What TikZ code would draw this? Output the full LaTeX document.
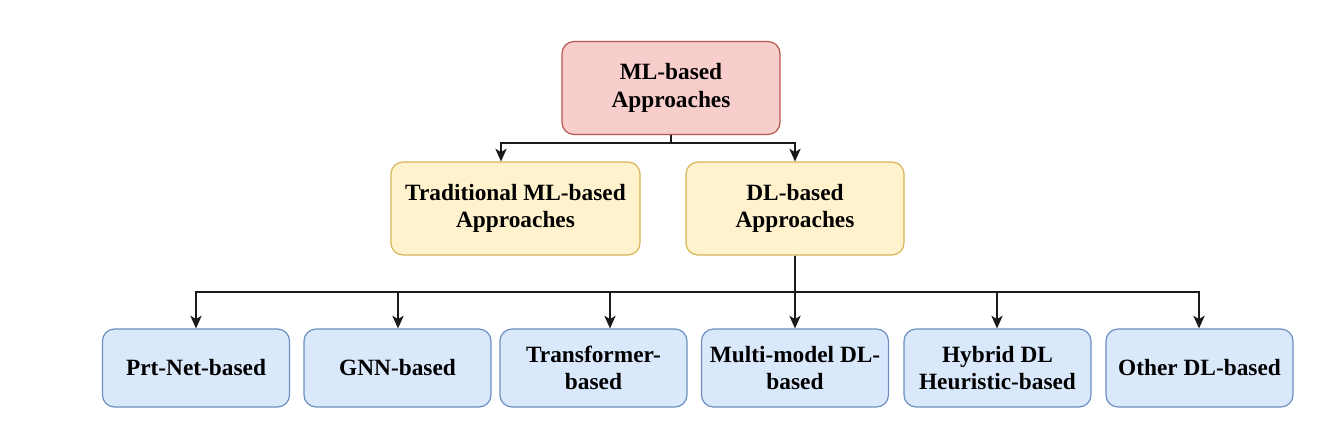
\documentclass[tikz,border=0pt]{standalone}
\usepackage{fontspec}
\setmainfont{Liberation Serif}
\usetikzlibrary{arrows.meta}
\definecolor{pinkF}{HTML}{F8CECC}
\definecolor{pinkD}{HTML}{B85450}
\definecolor{yelF}{HTML}{FFF2CC}
\definecolor{yelD}{HTML}{D6B656}
\definecolor{bluF}{HTML}{DAE8FC}
\definecolor{bluD}{HTML}{6C8EBF}
\definecolor{lineC}{HTML}{1A1A1A}
\tikzset{
  box/.style={rounded corners=9pt, line width=0.9pt, align=center, inner sep=2pt,
    font=\bfseries\fontsize{17.5}{20.5}\selectfont},
  redbox/.style={box, fill=pinkF, draw=pinkD, minimum width=163.5pt, minimum height=69.75pt},
  yelbox/.style={box, fill=yelF, draw=yelD, minimum height=69.75pt},
  blubox/.style={box, fill=bluF, draw=bluD, minimum width=140.25pt, minimum height=58.5pt},
  arr/.style={draw=lineC, line width=1.05pt, -{Stealth[length=9.5pt,width=8.5pt,inset=2.5pt]}}
}
\begin{document}
\begin{tikzpicture}[x=0.75pt,y=-0.75pt]
\useasboundingbox (0,0) rectangle (1341,437);
\node[redbox] (top) at (671,88) {ML-based\\Approaches};
\node[yelbox, minimum width=186.75pt] (trad) at (515.5,208.5) {Traditional ML-based\\Approaches};
\node[yelbox, minimum width=163.5pt] (dl) at (795,208.5) {DL-based\\Approaches};

\node[blubox] (b1) at (196,368) {Prt-Net-based};
\node[blubox] (b2) at (397.5,368) {GNN-based};
\node[blubox] (b3) at (593.5,368) {Transformer-\\based};
\node[blubox] (b4) at (795,368) {Multi-model DL-\\based};
\node[blubox] (b5) at (997.5,368) {Hybrid DL\\Heuristic-based};
\node[blubox] (b6) at (1199.5,368) {Other DL-based};

\coordinate (bus1) at (0,143);
\coordinate (bus2) at (0,292);
\coordinate (tx) at (501,0);
\coordinate (x1) at (196,0);
\coordinate (x2) at (398,0);
\coordinate (x3) at (610,0);
\coordinate (x4) at (795,0);
\coordinate (x5) at (997,0);
\coordinate (x6) at (1199,0);

\draw[arr] (top.south) -- (top.south |- bus1) -| (tx |- trad.north);
\draw[arr] (top.south) -- (top.south |- bus1) -| (dl.north);

\draw[arr] (dl.south) -- (dl.south |- bus2) -| (x1 |- b1.north);
\draw[arr] (dl.south) -- (dl.south |- bus2) -| (x2 |- b2.north);
\draw[arr] (dl.south) -- (dl.south |- bus2) -| (x3 |- b3.north);
\draw[arr] (dl.south) -- (x4 |- b4.north);
\draw[arr] (dl.south) -- (dl.south |- bus2) -| (x5 |- b5.north);
\draw[arr] (dl.south) -- (dl.south |- bus2) -| (x6 |- b6.north);
\end{tikzpicture}
\end{document}
